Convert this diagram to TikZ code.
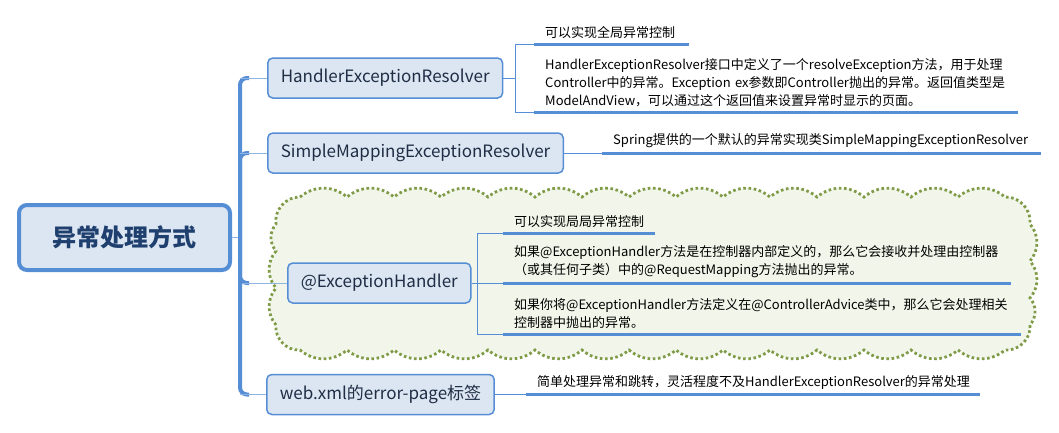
\documentclass[tikz,border=0pt]{standalone}
\usepackage{fontspec}
\setmainfont{Noto Sans CJK SC}
\usetikzlibrary{calc}
\definecolor{boxline}{HTML}{558ED5}
\definecolor{boxfill}{HTML}{DCE6F2}
\definecolor{linkline}{HTML}{8EB4E3}
\definecolor{cloudline}{HTML}{7F9B47}
\definecolor{cloudfill}{HTML}{F2F6EA}
\definecolor{rootink}{HTML}{1F3F6F}
\definecolor{boxink}{HTML}{1F2D45}
\tikzset{
  rootbox/.style={draw=boxline, fill=boxfill, line width=4pt, rounded corners=8pt,
    minimum width=211pt, minimum height=65pt, text=rootink,
    font=\fontsize{24}{28}\selectfont\bfseries},
  branch/.style={draw=boxline, fill=boxfill, line width=1.5pt, rounded corners=5pt,
    minimum height=40pt, inner xsep=13pt, text=boxink, anchor=west,
    font=\fontsize{17}{20}\selectfont},
  leaf/.style={anchor=south west, inner xsep=11pt, inner ysep=5pt, align=left,
    text width=#1, font=\fontsize{13}{18}\selectfont},
  uline/.style={draw=boxline, line width=3pt},
  link/.style={draw=linkline, line width=1pt},
  bracket/.style={draw=boxline, line width=1pt},
  spine/.style={draw=boxline, line width=4pt, rounded corners=7pt},
  cloudy/.style={draw=cloudline, fill=cloudfill, line width=2.8pt,
    dash pattern=on 2.6pt off 2.6pt},
}
\begin{document}
\begin{tikzpicture}[x=1pt, y=-1pt]
  \useasboundingbox (0,0) rectangle (1059,432);
  % cloud behind the third branch
  \path[cloudy] (300,197)
    \foreach \x in {347,394,...,1005} { to[bend left=40] (\x,197) }
    to[bend left=50] (1030,224)
    \foreach \y in {261,298,325} { to[bend left=40] (1030,\y) }
    to[bend left=50] (1005,350)
    \foreach \x in {958,911,...,300} { to[bend left=40] (\x,350) }
    to[bend left=50] (276,325)
    \foreach \y in {288,251,224} { to[bend left=40] (276,\y) }
    to[bend left=50] (300,197) -- cycle;

  \node[rootbox] (root) at (124.5,237.5) {异常处理方式};
  \node[branch] (hand) at (267,78) {HandlerExceptionResolver};
  \node[branch] (simp) at (267,153) {SimpleMappingExceptionResolver};
  \node[branch] (exc) at (287,283) {@ExceptionHandler};
  \node[branch] (web) at (266,394.5) {web.xml的error-page标签};

  \coordinate (hub) at (240,237.5);
  \draw[link] (root.east) -- (hub);
  \foreach \b in {hand,simp,exc,web} {
    \draw[spine] (hub) |- ($(hub |- \b.west)+(9,0)$);
    \draw[link] (hub |- \b.west) -- (\b.west);
  }

  % leaves
  \node[leaf=133pt] (h1) at (534,44) {可以实现全局异常控制};
  \node[leaf=462pt] (h2) at (534,112) {HandlerExceptionResolver接口中定义了一个resolveException方法，用于处理\\Controller中的异常。Exception ex参数即Controller抛出的异常。返回值类型是\\ModelAndView，可以通过这个返回值来设置异常时显示的页面。};
  \node[leaf=417pt] (s1) at (602,153) {Spring提供的一个默认的异常实现类SimpleMappingExceptionResolver};
  \node[leaf=130pt] (e1) at (503,233) {可以实现局局异常控制};
  \node[leaf=486pt] (e2) at (503,283) {如果@ExceptionHandler方法是在控制器内部定义的，那么它会接收并处理由控制器\\（或其任何子类）中的@RequestMapping方法抛出的异常。};
  \node[leaf=496pt] (e3) at (503,334) {如果你将@ExceptionHandler方法定义在@ControllerAdvice类中，那么它会处理相关\\控制器中抛出的异常。};
  \node[leaf=432pt] (w1) at (526,394.5) {简单处理异常和跳转，灵活程度不及HandlerExceptionResolver的异常处理};

  \coordinate (hb) at ($(hand.east)+(12,0)$);
  \coordinate (eb) at ($(exc.east)+(6,0)$);
  \draw[bracket] (hand.east) -- (hb);
  \draw[bracket] (h1.south west) -- (h1.south west -| hb) -- (h2.south west -| hb) -- (h2.south west);
  \draw[bracket] (simp.east) -- (s1.south west);
  \draw[bracket] (exc.east) -- (e2.south west);
  \draw[bracket] (e1.south west) -- (e1.south west -| eb) -- (e3.south west -| eb) -- (e3.south west);
  \draw[bracket] (web.east) -- (w1.south west);
  \foreach \n in {h1,h2,s1,e1,e2,e3,w1}
    \draw[uline] (\n.south west) -- (\n.south east);
\end{tikzpicture}
\end{document}
